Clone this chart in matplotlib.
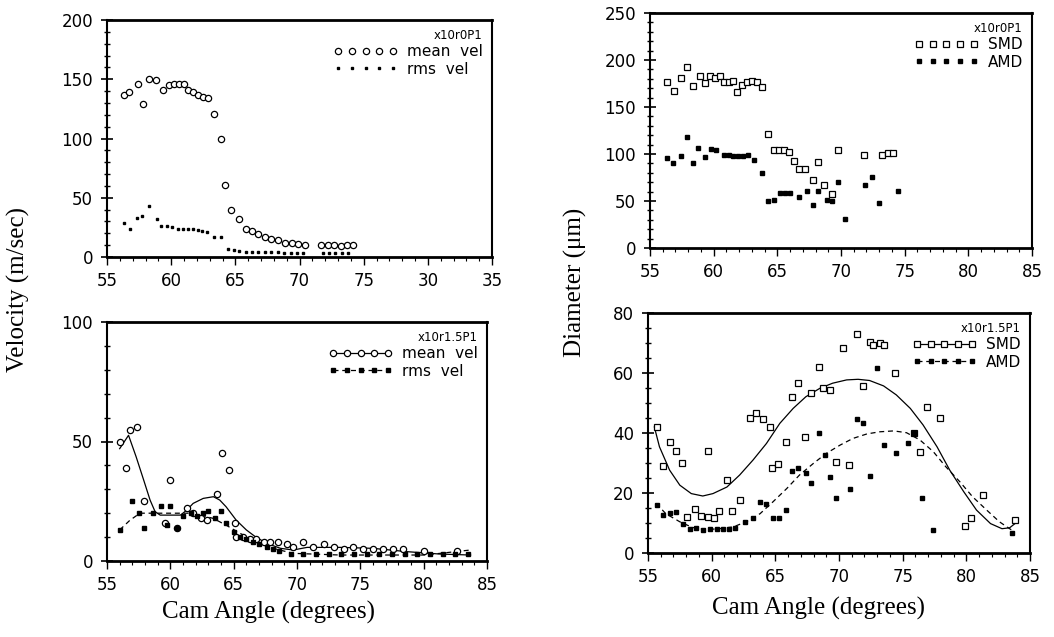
import matplotlib
matplotlib.use("Agg")
import matplotlib.pyplot as plt
from matplotlib.lines import Line2D
from matplotlib.ticker import MultipleLocator

# ---------------- data: top-left (x10r0P1 velocity) ----------------
tl_mean_x = [56.3, 56.7, 57.4, 57.8, 58.3, 58.8, 59.4, 59.8, 60.2, 60.6, 61.0, 61.3, 61.7, 62.1,
             62.5, 62.9, 63.3, 63.9, 64.2, 64.7, 65.3, 65.8, 66.3, 66.8, 67.3, 67.8, 68.3, 68.9,
             69.4, 69.9, 70.4, 71.7, 72.2, 72.7, 73.2, 73.7, 74.2]
tl_mean_y = [137, 139, 146, 129, 150, 149, 141, 145, 146, 146, 146, 141, 139, 137,
             135, 134, 121, 100, 61, 40, 32, 24, 22, 19, 17, 15, 14, 12,
             12, 11, 10, 10, 10, 10, 9, 10, 10]
tl_rms_x = [56.3, 56.8, 57.3, 57.7, 58.3, 58.9, 59.2, 59.7, 60.1, 60.5, 60.9, 61.3, 61.7, 62.1,
            62.4, 62.8, 63.3, 63.9, 64.4, 64.9, 65.3, 65.8, 66.3, 66.8, 67.3, 67.8, 68.3, 68.8,
            69.3, 69.8, 70.3, 71.8, 72.3, 72.8, 73.3, 73.8]
tl_rms_y = [29, 24, 33, 35, 43, 32, 26, 26, 25, 24, 24, 24, 24, 23,
            22, 21, 17, 17, 7, 6, 5, 4, 4, 4, 4, 4, 4, 3,
            3, 3, 3, 3, 3, 3, 3, 3]

# ---------------- data: bottom-left (x10r1.5P1 velocity) ----------------
bl_mean_x = [56.0, 56.5, 56.8, 57.4, 57.9, 59.6, 60.0, 60.5, 61.3, 61.8, 62.4, 62.9, 63.7, 64.1,
             64.6, 65.1, 65.2, 65.7, 66.3, 66.8, 67.4, 67.9, 68.5, 69.2, 69.7, 70.5, 71.3, 72.1,
             72.9, 73.7, 74.4, 75.2, 76.0, 76.8, 77.6, 78.4, 80.0, 82.6]
bl_mean_y = [50, 39, 55, 56, 25, 16, 34, 14, 22, 20, 18, 17, 28, 45,
             38, 16, 10, 10, 9, 9, 8, 8, 8, 7, 6, 8, 6, 7,
             6, 5, 6, 5, 5, 5, 5, 5, 4, 4]
bl_rms_x = [56.0, 57.0, 57.5, 57.9, 58.6, 59.3, 59.7, 60.0, 60.5, 61.0, 61.6, 62.1, 62.6, 63.0,
            63.5, 64.0, 64.4, 65.0, 65.5, 66.0, 66.5, 67.0, 67.6, 68.1, 68.6, 69.5, 70.5, 71.5,
            72.5, 73.5, 74.5, 75.5, 76.5, 77.5, 78.5, 79.5, 80.5, 81.5, 82.5, 83.5]
bl_rms_y = [13, 25, 20, 14, 20, 23, 15, 23, 14, 19, 20, 19, 20, 21,
            18, 21, 16, 12, 10, 9, 8, 7, 6, 5, 4, 3, 3, 3,
            3, 3, 3, 3, 3, 3, 3, 3, 3, 3, 3, 3]
bl_mean_fit_x = [56.0, 56.7, 57.3, 57.9, 58.4, 58.8, 59.2, 60.8, 61.3, 61.8, 62.6, 63.4, 63.9,
                 64.4, 65.2, 66.0, 66.7, 67.6, 68.7, 69.7, 70.8, 73.4, 76.0, 78.7, 81.3, 83.7]
bl_mean_fit_y = [47, 52.6, 43.6, 33.8, 25.5, 20.6, 19.2, 19.2, 21.3, 24.1, 26.2, 26.9, 25.5,
                 22.7, 17.1, 13.0, 10.2, 7.4, 5.3, 4.6, 5.7, 5.7, 5.3, 3.9, 2.9, 2.5]
bl_rms_fit_x = [56.0, 56.8, 57.6, 58.8, 61.6, 62.4, 63.4, 64.4, 65.5, 66.8, 68.1, 69.7, 73.4,
                77.3, 80.0, 81.3, 83.7]
bl_rms_fit_y = [13, 17, 20, 20, 20, 19.2, 17.8, 15, 11.6, 8.1, 5.3, 3.2, 2.5,
                2.5, 2.5, 3.2, 4.6]

# ---------------- data: top-right (x10r0P1 diameter) ----------------
tr_smd_x = [56.3, 56.9, 57.4, 57.9, 58.35, 58.9, 59.3, 59.7, 60.1, 60.5, 60.8, 61.2, 61.5, 61.8,
            62.2, 62.6, 63.0, 63.4, 63.8, 64.3, 64.7, 65.1, 65.5, 65.9, 66.3, 66.7, 67.2, 67.8,
            68.2, 68.7, 69.3, 69.8, 71.8, 73.2, 73.7, 74.1]
tr_smd_y = [177, 167, 181, 193, 172, 183, 176, 183, 181, 183, 177, 177, 178, 166,
            173, 177, 178, 177, 171, 121, 104, 104, 104, 102, 93, 84, 84, 72,
            92, 67, 57, 104, 99, 99, 101, 101]
tr_amd_x = [56.3, 56.8, 57.4, 57.9, 58.4, 58.8, 59.3, 59.8, 60.2, 60.8, 61.2, 61.5, 61.9, 62.3,
            62.7, 63.2, 63.8, 64.3, 64.7, 65.2, 65.6, 66.0, 66.7, 67.3, 67.8, 68.2, 68.9, 69.3,
            69.8, 70.3, 71.9, 72.4, 73.0, 74.5]
tr_amd_y = [96, 90, 98, 118, 90, 106, 97, 105, 104, 99, 99, 98, 98, 98,
            99, 94, 80, 50, 51, 59, 58, 58, 54, 61, 46, 61, 51, 50,
            70, 31, 67, 76, 48, 61]

# ---------------- data: bottom-right (x10r1.5P1 diameter) ----------------
br_smd_x = [55.7, 56.2, 56.7, 57.2, 57.7, 58.1, 58.7, 59.2, 59.7, 59.7, 60.2, 60.6, 61.2, 61.6,
            62.2, 63.0, 63.5, 64.0, 64.6, 64.7, 65.2, 65.8, 66.3, 66.8, 67.3, 67.8, 68.4, 68.75,
            69.3, 69.8, 70.3, 70.8, 71.4, 71.85, 72.4, 72.7, 73.2, 73.5, 74.4, 75.9, 76.35,
            76.9, 77.9, 79.9, 80.4, 81.3, 83.8]
br_smd_y = [42, 29, 37, 34, 30, 12, 14.6, 12.4, 34, 12, 11.8, 14, 24.3, 14,
            17.6, 45, 46.6, 44.6, 42, 28.2, 29.6, 37, 52, 56.6, 38.8, 53.3, 62, 55,
            54.2, 30.4, 68.3, 29.3, 73, 55.7, 70.2, 69.4, 70, 69.4, 60, 40, 33.8,
            48.8, 45, 9, 11.8, 19.5, 10.9]
br_amd_x = [55.7, 56.2, 56.7, 57.2, 57.75, 58.3, 58.8, 59.3, 59.85, 60.4, 60.9, 61.4, 61.8, 62.6,
            63.25, 63.8, 64.3, 64.8, 65.3, 65.8, 66.3, 66.8, 67.4, 67.8, 68.4, 68.9, 69.3, 69.8,
            70.85, 71.4, 71.85, 72.4, 72.95, 73.5, 74.5, 75.4, 75.9, 76.5, 77.35, 83.55]
br_amd_y = [16, 12.6, 13.5, 13.7, 9.6, 8.1, 8.5, 7.8, 8.1, 8.1, 8.1, 8.1, 8.5, 10.4,
            11.8, 17, 16.5, 11.8, 11.8, 14.3, 27.4, 28.2, 26.7, 23.2, 40, 32.6, 25.4, 18.2,
            21.5, 44.6, 43.2, 25.6, 61.6, 36, 33.4, 36.8, 40, 18.5, 7.8, 6.8]
br_smd_fit_x = [55.5, 55.9, 56.7, 57.5, 58.4, 59.3, 60.1, 61.2, 62.2, 63.25, 64.3, 65.35, 66.4,
                67.4, 68.5, 69.5, 70.6, 71.5, 72.4, 73.5, 74.5, 75.6, 76.6, 77.7, 78.7, 79.8,
                80.8, 81.9, 82.8, 83.4, 84.0]
br_smd_fit_y = [42, 35.4, 27.6, 22.6, 19.8, 19.0, 19.8, 22, 26, 31, 36.5, 43.2, 48.2,
                52.1, 54.9, 56.6, 57.7, 57.9, 57.5, 55.7, 52.7, 48.2, 42.7, 35.4, 27.6, 20.4,
                14.3, 9.8, 8.1, 8.4, 10.4]
br_amd_fit_x = [55.65, 56.4, 57.5, 58.5, 59.6, 60.6, 61.7, 62.7, 63.8, 64.8, 65.9, 66.9, 68.0,
                69.0, 70.1, 71.1, 72.2, 73.2, 74.3, 75.3, 76.35, 77.4, 78.4, 79.5, 80.5, 81.6,
                82.6, 83.4, 83.8]
br_amd_fit_y = [16.5, 13.1, 10.4, 8.5, 7.8, 8.1, 8.7, 10.4, 13.1, 17, 21.5, 26, 29.9,
                33.2, 36, 38.2, 39.7, 40.4, 40.7, 40.1, 37.7, 33.8, 28.7, 23.7, 18.7, 14.3,
                10.4, 8.1, 7.0]

x_ticks = [55, 60, 65, 70, 75, 80, 85]
tl_xlabels = ["55", "60", "65", "70", "75", "30", "35"]
std_xlabels = ["55", "60", "65", "70", "75", "80", "85"]

fig = plt.figure(figsize=(10.54, 6.37), dpi=100)
W, H = 1054, 637


def mkax(l, r, t, b):
    return fig.add_axes([l / W, (H - b) / H, (r - l) / W, (b - t) / H])


ax_tl = mkax(107, 492, 20, 257)
ax_bl = mkax(107, 487, 322, 561)
ax_tr = mkax(650, 1032, 13, 248)
ax_br = mkax(648, 1030, 313, 553)

tickfont = dict(family="DejaVu Sans", size=12)


def style(ax, ymax, ymajor, yminor, xlabels):
    ax.set_xlim(55, 85)
    ax.set_ylim(0, ymax)
    ax.set_xticks(x_ticks)
    ax.set_xticklabels(xlabels, **tickfont)
    ax.yaxis.set_major_locator(MultipleLocator(ymajor))
    ax.yaxis.set_minor_locator(MultipleLocator(yminor))
    ax.xaxis.set_minor_locator(MultipleLocator(1))
    for lab in ax.get_yticklabels():
        lab.set_fontfamily("DejaVu Sans")
        lab.set_fontsize(12)
    ax.tick_params(axis="y", which="major", direction="inout", length=8, width=1.2, pad=6)
    ax.tick_params(axis="y", which="minor", direction="inout", length=5, width=1.0)
    ax.tick_params(axis="x", which="major", direction="out", length=6, width=1.0, pad=5)
    ax.tick_params(axis="x", which="minor", direction="out", length=3, width=0.8)
    for s in ax.spines.values():
        s.set_linewidth(1.5)
    ax.spines["bottom"].set_linewidth(2.0)
    ax.spines["top"].set_linewidth(2.0)


def legend(ax, title, handles, labels):
    leg = ax.legend(handles, labels, loc="upper right", frameon=False, numpoints=5,
                    handlelength=4.2, handletextpad=0.6, borderaxespad=0.2, labelspacing=0.15,
                    prop=dict(family="DejaVu Sans", size=11), title=title,
                    title_fontproperties=dict(family="DejaVu Sans", size=8.5),
                    alignment="right")
    return leg


# top-left
ax = ax_tl
ax.plot(tl_mean_x, tl_mean_y, ls="none", marker="o", ms=4.5, mfc="white", mec="black", mew=0.9)
ax.plot(tl_rms_x, tl_rms_y, ls="none", marker="s", ms=2.0, mfc="black", mec="black")
style(ax, 200, 50, 10, tl_xlabels)
legend(ax, "x10r0P1",
       [Line2D([], [], ls="none", marker="o", ms=4.5, mfc="white", mec="black", mew=0.9),
        Line2D([], [], ls="none", marker="s", ms=2.0, mfc="black", mec="black")],
       ["mean  vel", "rms  vel"])

# bottom-left
ax = ax_bl
ax.plot(bl_mean_fit_x, bl_mean_fit_y, color="black", lw=0.9)
ax.plot(bl_rms_fit_x, bl_rms_fit_y, color="black", lw=0.9, ls=(0, (4, 3)))
ax.plot(bl_mean_x, bl_mean_y, ls="none", marker="o", ms=4.5, mfc="white", mec="black", mew=0.9)
ax.plot(bl_rms_x, bl_rms_y, ls="none", marker="s", ms=2.5, mfc="black", mec="black")
style(ax, 100, 50, 10, std_xlabels)
legend(ax, "x10r1.5P1",
       [Line2D([], [], ls="-", lw=0.9, color="black", marker="o", ms=4.5, mfc="white", mec="black", mew=0.9),
        Line2D([], [], ls=(0, (4, 3)), lw=0.9, color="black", marker="s", ms=2.5, mfc="black", mec="black")],
       ["mean  vel", "rms  vel"])

# top-right
ax = ax_tr
ax.plot(tr_smd_x, tr_smd_y, ls="none", marker="s", ms=4.2, mfc="white", mec="black", mew=0.9)
ax.plot(tr_amd_x, tr_amd_y, ls="none", marker="s", ms=2.2, mfc="black", mec="black")
style(ax, 250, 50, 10, std_xlabels)
legend(ax, "x10r0P1",
       [Line2D([], [], ls="none", marker="s", ms=4.2, mfc="white", mec="black", mew=0.9),
        Line2D([], [], ls="none", marker="s", ms=2.2, mfc="black", mec="black")],
       ["SMD", "AMD"])

# bottom-right
ax = ax_br
ax.plot(br_smd_fit_x, br_smd_fit_y, color="black", lw=0.9)
ax.plot(br_amd_fit_x, br_amd_fit_y, color="black", lw=0.9, ls=(0, (4, 3)))
ax.plot(br_smd_x, br_smd_y, ls="none", marker="s", ms=4.2, mfc="white", mec="black", mew=0.9)
ax.plot(br_amd_x, br_amd_y, ls="none", marker="s", ms=2.5, mfc="black", mec="black")
style(ax, 80, 20, 5, std_xlabels)
legend(ax, "x10r1.5P1",
       [Line2D([], [], ls="-", lw=0.9, color="black", marker="s", ms=4.2, mfc="white", mec="black", mew=0.9),
        Line2D([], [], ls=(0, (4, 3)), lw=0.9, color="black", marker="s", ms=2.5, mfc="black", mec="black")],
       ["SMD", "AMD"])

serif = dict(family="Liberation Serif", size=18)
fig.text(18 / W, 1 - 290 / H, "Velocity (m/sec)", rotation=90, ha="center", va="center", **serif)
fig.text(575 / W, 1 - 282 / H, "Diameter (\u03bcm)", rotation=90, ha="center", va="center", **serif)
fig.text(268 / W, 1 - 612 / H, "Cam Angle (degrees)", ha="center", va="center", **serif)
fig.text(818 / W, 1 - 608 / H, "Cam Angle (degrees)", ha="center", va="center", **serif)

fig.savefig("out.png", dpi=100)
